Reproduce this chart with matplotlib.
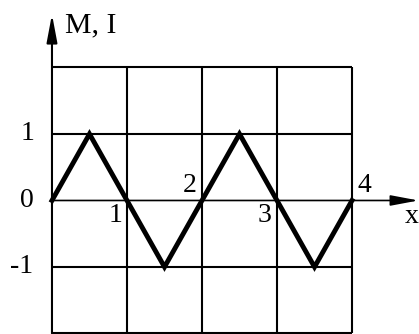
import matplotlib
matplotlib.use("Agg")
import matplotlib.pyplot as plt

# triangular wave M, I(x)
x_pts = [0, 0.5, 1, 1.5, 2, 2.5, 3, 3.5, 4]
y_pts = [0, 1, 0, -1, 0, 1, 0, -1, 0]

grid_x = [1, 2, 3, 4]
grid_y = [-2, -1, 1, 2]

y_ticks = [1, 0, -1]
y_tick_labels = ["1", "0", "-1"]

# labels placed next to the zero crossings
x_marks = ["1", "2", "3", "4"]
x_mark_pos = [1, 2, 3, 4]

plt.rcParams['font.family'] = ['Liberation Serif', 'DejaVu Serif']

fig = plt.figure(figsize=(4.19, 3.34), dpi=100)
ax = fig.add_axes([0, 0, 1, 1])
ax.set_xlim(-0.693, 4.893)
ax.set_ylim(-2.008, 3.015)
ax.axis("off")

# grid box
for gx in grid_x:
    ax.plot([gx, gx], [-2, 2], color="black", lw=1.5, solid_capstyle="butt")
for gy in grid_y:
    ax.plot([0, 4], [gy, gy], color="black", lw=1.5, solid_capstyle="butt")

# axes with arrows
ax.annotate("", xy=(0, 2.80), xytext=(0, -2.0),
            arrowprops=dict(arrowstyle="-|>,head_length=1.7,head_width=0.32",
                            color="black", lw=1.5, shrinkA=0, shrinkB=0))
ax.annotate("", xy=(4.886, 0), xytext=(0, 0),
            arrowprops=dict(arrowstyle="-|>,head_length=1.7,head_width=0.32",
                            color="black", lw=1.2, shrinkA=0, shrinkB=0))

# the curve
ax.plot(x_pts, y_pts, color="black", lw=3.5, solid_joinstyle="miter")

# y labels
for v, lab in zip(y_ticks, y_tick_labels):
    if lab == "-1":
        ax.text(-0.25, v, lab, fontsize=20, ha="right", va="center")
    else:
        ax.text(-0.33, v, lab, fontsize=20, ha="center", va="center")

ax.text(0.17, 2.64, "M, I", fontsize=21.5, ha="left", va="center")
ax.text(4.70, -0.24, "x", fontsize=20, ha="left", va="center")

offsets = {"1": (-0.15, -0.22), "2": (-0.17, 0.22), "3": (-0.17, -0.22), "4": (0.16, 0.22)}
for p, lab in zip(x_mark_pos, x_marks):
    dx, dy = offsets[lab]
    ax.text(p + dx, dy, lab, fontsize=20, ha="center", va="center")

fig.savefig("out.png", dpi=100)
